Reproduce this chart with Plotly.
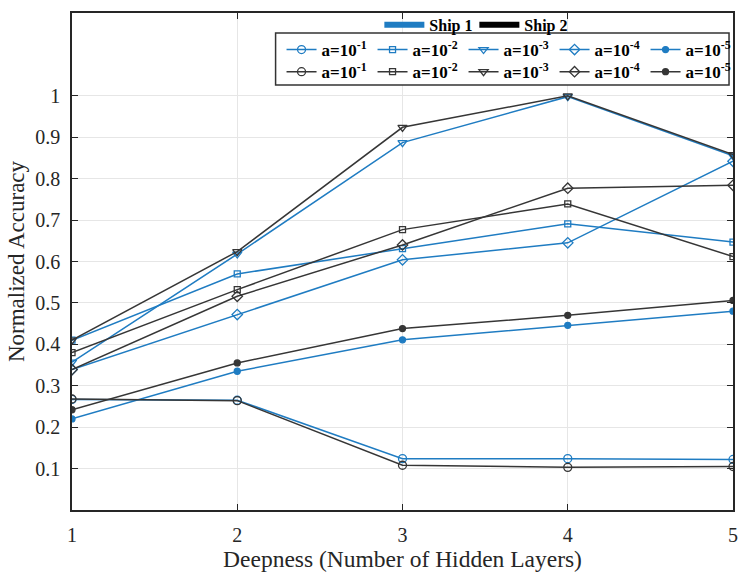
import plotly.graph_objects as go

# Hidden-layer depth on the x axis
layers = [1, 2, 3, 4, 5]

# Learning-rate labels
rate_labels = ["a=10<sup>-1</sup>", "a=10<sup>-2</sup>", "a=10<sup>-3</sup>",
               "a=10<sup>-4</sup>", "a=10<sup>-5</sup>"]

# Ship 1 normalized accuracy, one list per learning rate
ship1_a1 = [0.267, 0.265, 0.124, 0.124, 0.122]
ship1_a2 = [0.410, 0.570, 0.631, 0.691, 0.647]
ship1_a3 = [0.357, 0.618, 0.887, 0.998, 0.855]
ship1_a4 = [0.339, 0.472, 0.604, 0.645, 0.842]
ship1_a5 = [0.220, 0.335, 0.411, 0.446, 0.480]

# Ship 2 normalized accuracy
ship2_a1 = [0.268, 0.264, 0.108, 0.103, 0.105]
ship2_a2 = [0.380, 0.532, 0.677, 0.739, 0.612]
ship2_a3 = [0.410, 0.624, 0.924, 1.000, 0.858]
ship2_a4 = [0.339, 0.516, 0.640, 0.777, 0.784]
ship2_a5 = [0.242, 0.355, 0.438, 0.470, 0.506]

y_ticks = [0.1, 0.2, 0.3, 0.4, 0.5, 0.6, 0.7, 0.8, 0.9, 1.0]
y_tick_text = ["0.1", "0.2", "0.3", "0.4", "0.5", "0.6", "0.7", "0.8", "0.9", "1"]

BLUE = "#1f7cc2"
DARK = "#363636"
SERIF = "Liberation Serif, Times New Roman, serif"

symbols = ["circle-open", "square-open", "triangle-down-open", "diamond-open", "circle"]
sizes = [8, 6, 8, 8, 6]

fig = go.Figure()

# Group legend: Ship 1 / Ship 2
fig.add_trace(go.Scatter(x=[None], y=[None], mode="lines", name="<b>Ship 1</b>",
                         line=dict(color=BLUE, width=6), legend="legend"))
fig.add_trace(go.Scatter(x=[None], y=[None], mode="lines", name="<b>Ship 2</b>",
                         line=dict(color="black", width=6), legend="legend"))

ship1 = [ship1_a1, ship1_a2, ship1_a3, ship1_a4, ship1_a5]
ship2 = [ship2_a1, ship2_a2, ship2_a3, ship2_a4, ship2_a5]

for vals, sym, sz, lab in zip(ship1, symbols, sizes, rate_labels):
    fig.add_trace(go.Scatter(
        x=layers, y=vals, mode="lines+markers", name="<b>" + lab + "</b>",
        line=dict(color=BLUE, width=1.5),
        marker=dict(symbol=sym, size=sz, color=BLUE, line=dict(color=BLUE, width=1.3)),
        legend="legend2"))

for vals, sym, sz, lab in zip(ship2, symbols, sizes, rate_labels):
    fig.add_trace(go.Scatter(
        x=layers, y=vals, mode="lines+markers", name="<b>" + lab + "</b>",
        line=dict(color=DARK, width=1.5),
        marker=dict(symbol=sym, size=sz, color=DARK, line=dict(color=DARK, width=1.3)),
        legend="legend3"))

legend_font = dict(family=SERIF, size=17, color="black")

fig.update_layout(
    width=742, height=572,
    margin=dict(l=72, r=4, t=13, b=62),
    paper_bgcolor="white", plot_bgcolor="white",
    font=dict(family=SERIF, color="#262626"),
    legend=dict(orientation="h", x=0.465, y=0.976, xanchor="left", yanchor="middle",
                bgcolor="rgba(0,0,0,0)", font=dict(family=SERIF, size=16, color="black"),
                itemwidth=40, entrywidth=40, tracegroupgap=0),
    legend2=dict(orientation="h", x=0.317, y=0.9256, xanchor="left", yanchor="middle",
                 bgcolor="rgba(0,0,0,0)", font=legend_font, entrywidth=46),
    legend3=dict(orientation="h", x=0.317, y=0.881, xanchor="left", yanchor="middle",
                 bgcolor="rgba(0,0,0,0)", font=legend_font, entrywidth=46),
    shapes=[dict(type="rect", xref="paper", yref="paper",
                 x0=0.308, x1=0.994, y0=0.855, y1=0.960,
                 fillcolor="white", line=dict(color="#333333", width=1.5),
                 layer="above")],
    xaxis=dict(
        range=[1, 5], tickvals=layers, ticktext=[str(v) for v in layers],
        ticks="inside", ticklen=6, tickcolor="#262626", tickwidth=1.2,
        showline=True, linecolor="#262626", linewidth=1.5, mirror="ticks",
        showgrid=True, gridcolor="#e6e6e6", gridwidth=1, zeroline=False,
        tickfont=dict(family=SERIF, size=20, color="#262626"),
        ticklabelstandoff=6,
        title=dict(text="Deepness (Number of Hidden Layers)",
                   font=dict(family=SERIF, size=23.5, color="#262626"), standoff=3),
    ),
    yaxis=dict(
        range=[0, 1.2], tickvals=y_ticks, ticktext=y_tick_text,
        ticks="inside", ticklen=6, tickcolor="#262626", tickwidth=1.2,
        showline=True, linecolor="#262626", linewidth=1.5, mirror="ticks",
        showgrid=True, gridcolor="#e6e6e6", gridwidth=1, zeroline=False,
        tickfont=dict(family=SERIF, size=20, color="#262626"),
        ticklabelstandoff=6,
        title=dict(text="Normalized Accuracy",
                   font=dict(family=SERIF, size=23, color="#262626"), standoff=4),
    ),
)

fig.write_html("out.html")
